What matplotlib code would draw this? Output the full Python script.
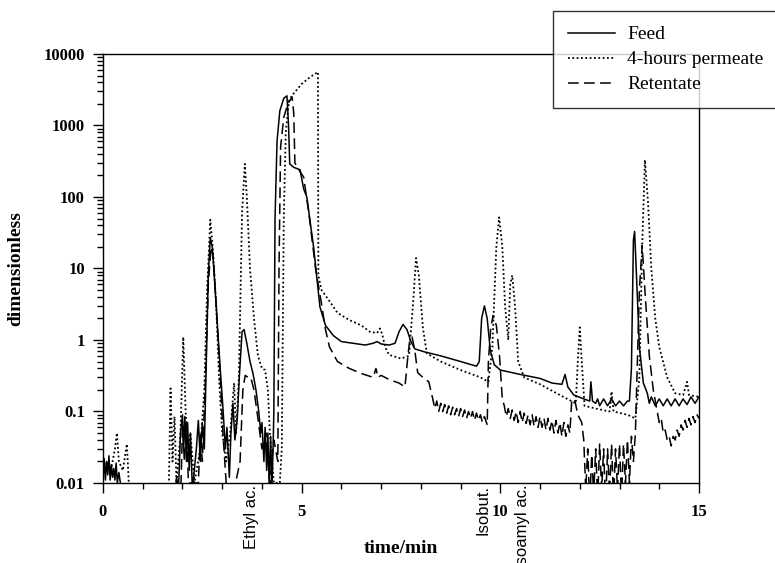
import matplotlib
matplotlib.use("Agg")
import matplotlib.pyplot as plt
import matplotlib.transforms as mtransforms
from matplotlib.ticker import FixedLocator, MultipleLocator, LogLocator, NullFormatter

# chromatogram traces: (time/min, signal)
feed = [
    (0.0, 0.012), (0.03, 0.022), (0.06, 0.011), (0.09, 0.02), (0.12, 0.013), (0.15, 0.024),
    (0.18, 0.011), (0.21, 0.018), (0.24, 0.012), (0.27, 0.016), (0.3, 0.011), (0.33, 0.019),
    (0.36, 0.01), (0.4, 0.014), (0.45, 0.009), (0.5, 0.008), (0.6, 0.005), (1.8, 0.005),
    (1.85, 0.012), (1.9, 0.008), (1.95, 0.05), (2.0, 0.09), (2.03, 0.03), (2.06, 0.085),
    (2.1, 0.02), (2.13, 0.07), (2.17, 0.015), (2.2, 0.05), (2.25, 0.008), (2.35, 0.03),
    (2.4, 0.075), (2.45, 0.02), (2.5, 0.07), (2.55, 0.03), (2.6, 0.5), (2.65, 8), (2.7, 27),
    (2.75, 20), (2.8, 8), (2.87, 2), (2.95, 0.4), (3.02, 0.11), (3.08, 0.03), (3.12, 0.06),
    (3.18, 0.012), (3.22, 0.05), (3.27, 0.13), (3.32, 0.04), (3.38, 0.08), (3.43, 0.3),
    (3.5, 1.3), (3.55, 1.4), (3.62, 0.9), (3.7, 0.5), (3.78, 0.33), (3.85, 0.2), (3.92, 0.1),
    (3.97, 0.05), (4.0, 0.07), (4.05, 0.02), (4.08, 0.06), (4.12, 0.015), (4.15, 0.05),
    (4.18, 0.01), (4.22, 0.045), (4.25, 0.008), (4.28, 0.03), (4.3, 0.1), (4.33, 50),
    (4.38, 600), (4.45, 1600), (4.55, 2400), (4.63, 2600), (4.67, 1000), (4.7, 290),
    (4.8, 260), (4.96, 240), (5.05, 130), (5.13, 100), (5.3, 20), (5.46, 2.9), (5.6, 1.6),
    (5.8, 1.15), (6.0, 0.95), (6.3, 0.9), (6.6, 0.85), (6.8, 0.9), (6.9, 0.95), (7.0, 0.88),
    (7.2, 0.85), (7.35, 0.9), (7.45, 1.3), (7.55, 1.65), (7.65, 1.4), (7.75, 0.95),
    (7.85, 0.75), (8.1, 0.68), (8.5, 0.6), (9.0, 0.5), (9.4, 0.43), (9.47, 0.5), (9.53, 2.0),
    (9.6, 3.0), (9.67, 2.0), (9.75, 0.7), (9.85, 0.45), (10.0, 0.38), (10.5, 0.33),
    (11.0, 0.29), (11.3, 0.25), (11.55, 0.24), (11.63, 0.33), (11.7, 0.22), (11.85, 0.17),
    (12.1, 0.15), (12.25, 0.14), (12.28, 0.26), (12.32, 0.14), (12.4, 0.13), (12.45, 0.15),
    (12.5, 0.12), (12.6, 0.15), (12.7, 0.12), (12.8, 0.15), (12.9, 0.12), (13.0, 0.14),
    (13.1, 0.12), (13.2, 0.14), (13.25, 0.14), (13.3, 0.4), (13.35, 25), (13.38, 33),
    (13.42, 10), (13.5, 0.8), (13.6, 0.25), (13.7, 0.18), (13.75, 0.13), (13.8, 0.16),
    (13.9, 0.12), (14.0, 0.15), (14.1, 0.12), (14.2, 0.15), (14.3, 0.12), (14.4, 0.15),
    (14.5, 0.12), (14.6, 0.15), (14.7, 0.125), (14.8, 0.16), (14.9, 0.13), (15.0, 0.16),
]

permeate = [
    (0.0, 0.012), (0.1, 0.02), (0.2, 0.015), (0.3, 0.03), (0.35, 0.05), (0.4, 0.02),
    (0.5, 0.015), (0.6, 0.035), (0.65, 0.01), (0.7, 0.005), (1.65, 0.005), (1.7, 0.21),
    (1.75, 0.02), (1.8, 0.085), (1.85, 0.01), (1.95, 0.05), (2.02, 1.1), (2.08, 0.1),
    (2.15, 0.02), (2.2, 0.05), (2.3, 0.01), (2.45, 0.03), (2.55, 0.2), (2.62, 5), (2.7, 48),
    (2.76, 20), (2.85, 3), (2.92, 0.3), (3.0, 0.05), (3.1, 0.02), (3.2, 0.05), (3.3, 0.25),
    (3.35, 0.05), (3.42, 0.3), (3.5, 60), (3.57, 290), (3.62, 100), (3.7, 10), (3.8, 2),
    (3.9, 0.6), (4.0, 0.4), (4.08, 0.38), (4.15, 0.2), (4.2, 0.05), (4.3, 0.01), (4.45, 0.01),
    (4.5, 0.03), (4.55, 50), (4.6, 800), (4.68, 2200), (4.75, 2600), (5.0, 3800), (5.2, 4700),
    (5.41, 5600), (5.42, 8), (5.5, 5), (5.7, 3.5), (5.9, 2.4), (6.2, 1.9), (6.5, 1.6),
    (6.72, 1.3), (6.9, 1.25), (6.97, 1.45), (7.03, 1.2), (7.1, 0.8), (7.2, 0.62), (7.5, 0.55),
    (7.7, 0.6), (7.8, 3), (7.88, 14), (7.95, 8), (8.05, 1.5), (8.15, 0.65), (8.5, 0.5),
    (9.0, 0.38), (9.5, 0.3), (9.7, 0.26), (9.8, 0.8), (9.9, 20), (9.97, 52), (10.05, 20),
    (10.12, 3), (10.2, 1), (10.25, 6), (10.3, 8), (10.37, 3), (10.45, 0.5), (10.6, 0.3),
    (11.0, 0.24), (11.5, 0.17), (11.9, 0.13), (11.95, 0.5), (12.0, 1.5), (12.05, 0.5),
    (12.12, 0.12), (12.4, 0.11), (12.75, 0.1), (12.8, 0.19), (12.85, 0.1), (13.2, 0.09),
    (13.4, 0.08), (13.5, 0.3), (13.57, 20), (13.64, 330), (13.72, 80), (13.8, 10), (13.9, 2),
    (14.0, 0.8), (14.2, 0.3), (14.4, 0.18), (14.6, 0.17), (14.7, 0.26), (14.75, 0.17),
    (15.0, 0.16),
]

retentate = [
    (0.0, 0.005), (1.95, 0.005), (2.0, 0.06), (2.05, 0.02), (2.1, 0.07), (2.15, 0.01),
    (2.4, 0.01), (2.45, 0.05), (2.5, 0.02), (2.58, 0.3), (2.65, 6), (2.72, 20), (2.78, 14),
    (2.85, 3), (2.95, 0.3), (3.02, 0.05), (3.1, 0.01), (3.3, 0.008), (3.45, 0.02), (3.52, 0.2),
    (3.58, 0.32), (3.65, 0.3), (3.72, 0.3), (3.8, 0.2), (3.9, 0.08), (4.0, 0.03), (4.1, 0.05),
    (4.2, 0.01), (4.3, 0.04), (4.4, 0.02), (4.43, 10), (4.47, 500), (4.55, 1300), (4.65, 2000),
    (4.76, 2500), (4.8, 1500), (4.83, 300), (4.95, 230), (5.05, 190), (5.18, 60), (5.35, 10),
    (5.5, 3.2), (5.6, 1.4), (5.7, 0.8), (5.9, 0.5), (6.2, 0.4), (6.5, 0.34), (6.8, 0.3),
    (6.87, 0.4), (6.92, 0.3), (7.0, 0.32), (7.2, 0.28), (7.45, 0.25), (7.6, 0.22), (7.66, 0.5),
    (7.72, 1.0), (7.78, 1.1), (7.85, 0.7), (7.92, 0.35), (8.05, 0.3), (8.2, 0.26), (8.3, 0.15),
    (8.35, 0.11), (8.4, 0.14), (8.45, 0.1), (8.5, 0.13), (8.55, 0.1), (8.6, 0.125),
    (8.65, 0.095), (8.7, 0.12), (8.75, 0.09), (8.8, 0.115), (8.85, 0.09), (8.9, 0.11),
    (8.95, 0.085), (9.0, 0.11), (9.05, 0.085), (9.1, 0.105), (9.15, 0.08), (9.2, 0.1),
    (9.25, 0.08), (9.3, 0.1), (9.35, 0.075), (9.4, 0.095), (9.45, 0.075), (9.5, 0.09),
    (9.55, 0.07), (9.6, 0.085), (9.67, 0.065), (9.7, 0.5), (9.76, 1.5), (9.82, 2.2),
    (9.9, 1.6), (9.98, 0.6), (10.05, 0.15), (10.1, 0.12), (10.15, 0.085), (10.2, 0.11),
    (10.25, 0.08), (10.3, 0.105), (10.35, 0.075), (10.4, 0.1), (10.45, 0.07), (10.5, 0.1),
    (10.55, 0.07), (10.6, 0.095), (10.65, 0.068), (10.7, 0.09), (10.75, 0.065), (10.8, 0.09),
    (10.85, 0.062), (10.9, 0.085), (10.95, 0.06), (11.0, 0.085), (11.05, 0.06), (11.1, 0.08),
    (11.15, 0.055), (11.2, 0.08), (11.25, 0.055), (11.3, 0.075), (11.35, 0.05), (11.4, 0.075),
    (11.45, 0.05), (11.5, 0.07), (11.55, 0.045), (11.6, 0.07), (11.65, 0.045), (11.7, 0.065),
    (11.75, 0.05), (11.8, 0.15), (11.88, 0.14), (11.95, 0.09), (12.05, 0.07), (12.1, 0.04),
    (12.15, 0.008), (12.2, 0.03), (12.25, 0.005), (12.3, 0.025), (12.35, 0.007), (12.4, 0.03),
    (12.45, 0.006), (12.5, 0.035), (12.55, 0.008), (12.6, 0.03), (12.65, 0.005), (12.7, 0.03),
    (12.75, 0.007), (12.8, 0.035), (12.85, 0.006), (12.9, 0.03), (12.95, 0.008), (13.0, 0.035),
    (13.05, 0.006), (13.1, 0.035), (13.15, 0.01), (13.2, 0.04), (13.25, 0.01), (13.3, 0.045),
    (13.35, 0.02), (13.4, 0.05), (13.45, 0.5), (13.5, 5), (13.57, 21), (13.65, 4),
    (13.75, 0.6), (13.85, 0.2), (13.95, 0.1), (14.0, 0.07), (14.05, 0.08), (14.1, 0.05),
    (14.15, 0.055), (14.2, 0.04), (14.25, 0.045), (14.3, 0.033), (14.35, 0.045), (14.4, 0.04),
    (14.45, 0.055), (14.5, 0.045), (14.55, 0.065), (14.6, 0.055), (14.65, 0.075), (14.7, 0.06),
    (14.75, 0.08), (14.8, 0.065), (14.85, 0.085), (14.9, 0.07), (14.95, 0.09), (15.0, 0.08),
]

peak_names = ["Ethyl ac.", "Isobut.", "Isoamyl ac."]
peak_times = [3.75, 9.57, 10.55]

plt.rcParams["font.family"] = "Liberation Serif"

fig = plt.figure(figsize=(7.75, 5.63), dpi=100)
ax = fig.add_axes([0.1329, 0.1421, 0.769, 0.762])

series = [
    (feed, "Feed", "-", 1.1),
    (permeate, "4-hours permeate", (0, (1, 1.4)), 1.3),
    (retentate, "Retentate", (0, (7, 3.5)), 1.1),
]
for data, name, style, lw in series:
    t, y = zip(*data)
    ax.plot(t, y, color="black", lw=lw, ls=style, label=name)

ax.set_yscale("log")
ax.set_xlim(0, 15)
ax.set_ylim(0.01, 10000)

ax.xaxis.set_major_locator(FixedLocator([0, 5, 10, 15]))
ax.xaxis.set_minor_locator(MultipleLocator(1))
ax.yaxis.set_minor_locator(LogLocator(base=10, subs=range(2, 10), numticks=10))
ax.yaxis.set_minor_formatter(NullFormatter())
ax.set_yticks([0.01, 0.1, 1, 10, 100, 1000, 10000])
ax.set_yticklabels(["0.01", "0.1", "1", "10", "100", "1000", "10000"])

ax.tick_params(which="major", direction="out", length=7, width=1, labelsize=12, pad=6)
ax.tick_params(which="minor", direction="out", length=4, width=1)
ax.tick_params(axis="x", which="major", pad=8)
for lab in ax.get_xticklabels() + ax.get_yticklabels():
    lab.set_fontweight("bold")
for sp in ax.spines.values():
    sp.set_linewidth(1.0)

ax.set_xlabel("time/min", fontsize=14, fontweight="bold")
ax.set_ylabel("dimensionless", fontsize=14, fontweight="bold")
ax.xaxis.set_label_coords(0.5, -0.133)
ax.yaxis.set_label_coords(-0.1325, 0.5)

trans = mtransforms.blended_transform_factory(ax.transData, ax.transAxes)
for name, t in zip(peak_names, peak_times):
    ax.text(t, -0.004, name, transform=trans, rotation=90, ha="center", va="top",
            fontsize=12, family="Liberation Sans")

leg = fig.legend(loc="upper left", bbox_to_anchor=(0.7135, 0.808, 0.35, 0.1725), mode="expand",
                 fontsize=14, frameon=True, fancybox=False, handlelength=2.45,
                 handletextpad=0.62, labelspacing=0.38, borderpad=0.76, borderaxespad=0)
leg.get_frame().set_edgecolor("black")
leg.get_frame().set_linewidth(1.0)
leg.set_zorder(10)

fig.savefig("out.png", dpi=100)
